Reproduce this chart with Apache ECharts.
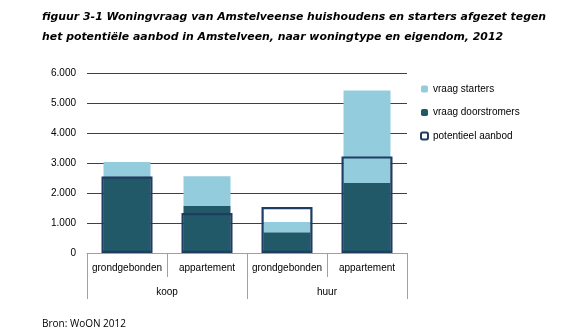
<!DOCTYPE html>
<html>
<head>
<meta charset="utf-8">
<script src="https://cdn.jsdelivr.net/npm/echarts@6/dist/echarts.min.js"></script>
<style>
html,body{margin:0;padding:0;background:#fff;}
#c{width:583px;height:334px;}
</style>
</head>
<body>
<div id="c"></div>
<script>
var woningtypes = ['grondgebonden', 'appartement', 'grondgebonden', 'appartement'];
var eigendom = ['koop', 'huur'];
var vraagDoorstromers = [2550, 1570, 690, 2330];
var vraagStarters = [480, 990, 340, 3090];
var potentieelAanbod = [2550, 1330, 1530, 3220];
var yTicks = [0, 1000, 2000, 3000, 4000, 5000, 6000];
var titleLines = ['figuur 3-1 Woningvraag van Amstelveense huishoudens en starters afgezet tegen',
                  'het potentiële aanbod in Amstelveen, naar woningtype en eigendom, 2012'];
var bron = 'Bron: WoON 2012';

var chart = echarts.init(document.getElementById('c'), null, {renderer: 'canvas'});
var labelFont = 'Liberation Sans, Arial, sans-serif';
function fmt(v) { return String(v).replace(/\B(?=(\d{3})+(?!\d))/g, '.'); }

chart.setOption({
  animation: false,
  backgroundColor: '#fff',
  graphic: [
    {type: 'text', left: 42, top: 12, style: {text: titleLines[0], font: 'italic bold 10.9px "DejaVu Sans"', fill: '#000'}},
    {type: 'text', left: 42, top: 32, style: {text: titleLines[1], font: 'italic bold 10.9px "DejaVu Sans"', fill: '#000'}},
    {type: 'text', left: 42, top: 319, style: {text: bron, font: '10px "Open Sans"', fill: '#000'}}
  ],
  legend: {
    orient: 'vertical',
    left: 415,
    top: 79,
    itemWidth: 7,
    itemHeight: 7,
    itemGap: 13.5,
    textStyle: {fontFamily: labelFont, fontSize: 10, color: '#000'},
    data: ['vraag starters', 'vraag doorstromers', 'potentieel aanbod']
  },
  grid: {left: 87, right: 176, top: 73, bottom: 81, containLabel: false},
  xAxis: [
    {
      type: 'category', data: woningtypes, position: 'bottom',
      axisLine: {show: true, lineStyle: {color: '#a0a0a0', width: 1}},
      axisTick: {show: true, interval: 0, length: 24, lineStyle: {color: '#a0a0a0'}},
      axisLabel: {interval: 0, margin: 10, fontFamily: labelFont, fontSize: 10, color: '#000'}
    },
    {
      type: 'category', data: eigendom, position: 'bottom', offset: 24,
      axisLine: {show: false},
      axisTick: {show: true, interval: 0, length: 22, lineStyle: {color: '#a0a0a0'}},
      axisLabel: {interval: 0, margin: 10, fontFamily: labelFont, fontSize: 10, color: '#000'}
    },
    {
      type: 'category', data: woningtypes, show: false
    }
  ],
  yAxis: {
    type: 'value', min: yTicks[0], max: yTicks[yTicks.length - 1], interval: 1000,
    axisLine: {show: false}, axisTick: {show: false},
    splitLine: {show: true, lineStyle: {color: '#404040', width: 1}},
    axisLabel: {margin: 11, fontFamily: labelFont, fontSize: 10, color: '#000', formatter: fmt}
  },
  series: [
    {
      name: 'vraag doorstromers', type: 'bar', stack: 'vraag', xAxisIndex: 0,
      barWidth: 47, data: vraagDoorstromers,
      itemStyle: {color: '#215968'}
    },
    {
      name: 'vraag starters', type: 'bar', stack: 'vraag', xAxisIndex: 0,
      barWidth: 47, data: vraagStarters,
      itemStyle: {color: '#93cddd'}
    },
    {
      name: 'potentieel aanbod', type: 'bar', xAxisIndex: 2, z: 5,
      barWidth: 51, data: potentieelAanbod,
      itemStyle: {color: 'rgba(0,0,0,0)', borderColor: '#1f3c63', borderWidth: 2.2}
    }
  ]
});
</script>
</body>
</html>
